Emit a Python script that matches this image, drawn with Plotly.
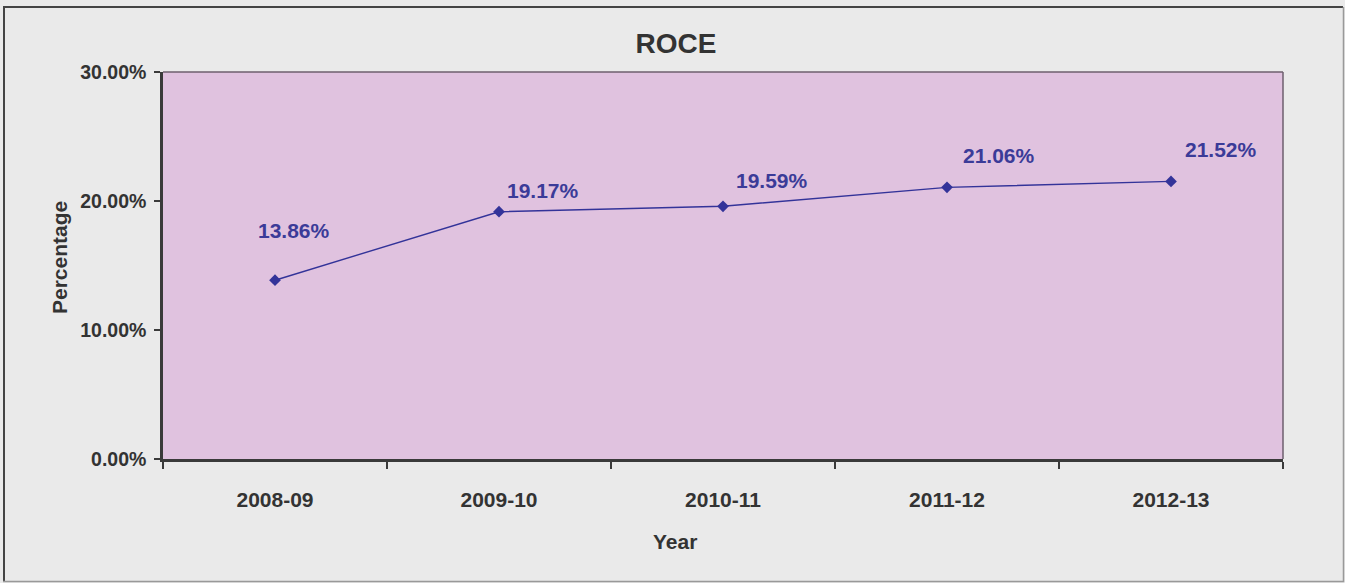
import plotly.graph_objects as go

years = ["2008-09", "2009-10", "2010-11", "2011-12", "2012-13"]
roce = [0.1386, 0.1917, 0.1959, 0.2106, 0.2152]
labels = ["13.86%", "19.17%", "19.59%", "21.06%", "21.52%"]
yticks = [0, 0.10, 0.20, 0.30]

# pixel offsets of data labels relative to points (styling)
label_dx = [19, 44, 49, 52, 50]
label_dy = [50, 21, 26, 32, 32]

W, H = 1345, 583
L, R, T, B = 163, 1283, 72, 459
pw, ph = R - L, B - T

def px(x):
    return (x - L) / pw

def py(y):
    return (B - y) / ph

FONT = "Liberation Sans, Arial, sans-serif"
TXT = "#333333"
LINE = "#333399"

fig = go.Figure()
fig.add_trace(go.Scatter(
    x=years, y=roce, mode="lines+markers",
    line=dict(color=LINE, width=1.4),
    marker=dict(symbol="diamond", size=9, color=LINE),
    hoverinfo="skip", showlegend=False,
))

for i, (yr, v, t) in enumerate(zip(years, roce, labels)):
    fig.add_annotation(x=yr, y=v, text="<b>%s</b>" % t, showarrow=False,
                       xanchor="center", yanchor="middle",
                       xshift=label_dx[i], yshift=label_dy[i],
                       font=dict(family=FONT, size=21, color="#3B3B98"))

fig.add_annotation(x=px(59), y=py(258), xref="paper", yref="paper", text="<b>Percentage</b>",
                   xanchor="center", yanchor="middle",
                   textangle=-90, showarrow=False, font=dict(family=FONT, size=21, color=TXT))
fig.add_annotation(x=px(675), y=py(541), xref="paper", yref="paper", text="<b>Year</b>",
                   xanchor="center", yanchor="middle",
                   showarrow=False, font=dict(family=FONT, size=21, color=TXT))

# outer chart border
shp = []
shp.append(dict(type="line", xref="paper", yref="paper", x0=px(3), x1=px(1343), y0=py(7), y1=py(7),
                line=dict(color="#444444", width=2)))
shp.append(dict(type="line", xref="paper", yref="paper", x0=px(4), x1=px(4), y0=py(7), y1=py(581),
                line=dict(color="#444444", width=2)))
shp.append(dict(type="line", xref="paper", yref="paper", x0=px(3), x1=px(1344), y0=py(581.5), y1=py(581.5),
                line=dict(color="#999999", width=1.5)))
shp.append(dict(type="line", xref="paper", yref="paper", x0=px(1343.5), x1=px(1343.5), y0=py(7), y1=py(582),
                line=dict(color="#999999", width=1.5)))
# plot area top / right border
shp.append(dict(type="line", xref="paper", yref="paper", x0=0, x1=1, y0=1, y1=1,
                line=dict(color="#6e5f6e", width=1.5)))
shp.append(dict(type="line", xref="paper", yref="paper", x0=1, x1=1, y0=0, y1=1,
                line=dict(color="#6e5f6e", width=1.5)))
fig.update_layout(shapes=shp)

fig.update_layout(
    width=W, height=H,
    margin=dict(l=L, r=W - R, t=T, b=H - B, pad=0),
    paper_bgcolor="#EAEAEA", plot_bgcolor="#E0C2DF",
    title=dict(text="<b>ROCE</b>", x=676 / W, xref="container", xanchor="center",
               y=1 - 43 / H, yref="container", yanchor="middle",
               font=dict(family=FONT, size=28, color=TXT)),
    font=dict(family=FONT, color=TXT),
)
fig.update_xaxes(
    type="category", range=[-0.5, 4.5], showgrid=False, zeroline=False,
    showline=True, linecolor="#3a3a3a", linewidth=2.5,
    ticks="outside", tickson="boundaries", ticklen=7, tickwidth=2, tickcolor="#3a3a3a",
    ticklabelstandoff=20,
    tickfont=dict(family=FONT, size=21, color=TXT, weight="bold"),
)
fig.update_yaxes(
    range=[0, 0.30], tickvals=yticks, tickformat=".2%", showgrid=False, zeroline=False,
    showline=True, linecolor="#3a3a3a", linewidth=2.5,
    ticks="outside", ticklen=6, tickwidth=2, tickcolor="#3a3a3a",
    ticklabelstandoff=4,
    tickfont=dict(family=FONT, size=19.5, color=TXT, weight="bold"),
)

fig.write_html("out.html", config={"displayModeBar": False},
               post_script="document.body.style.margin='0';")
